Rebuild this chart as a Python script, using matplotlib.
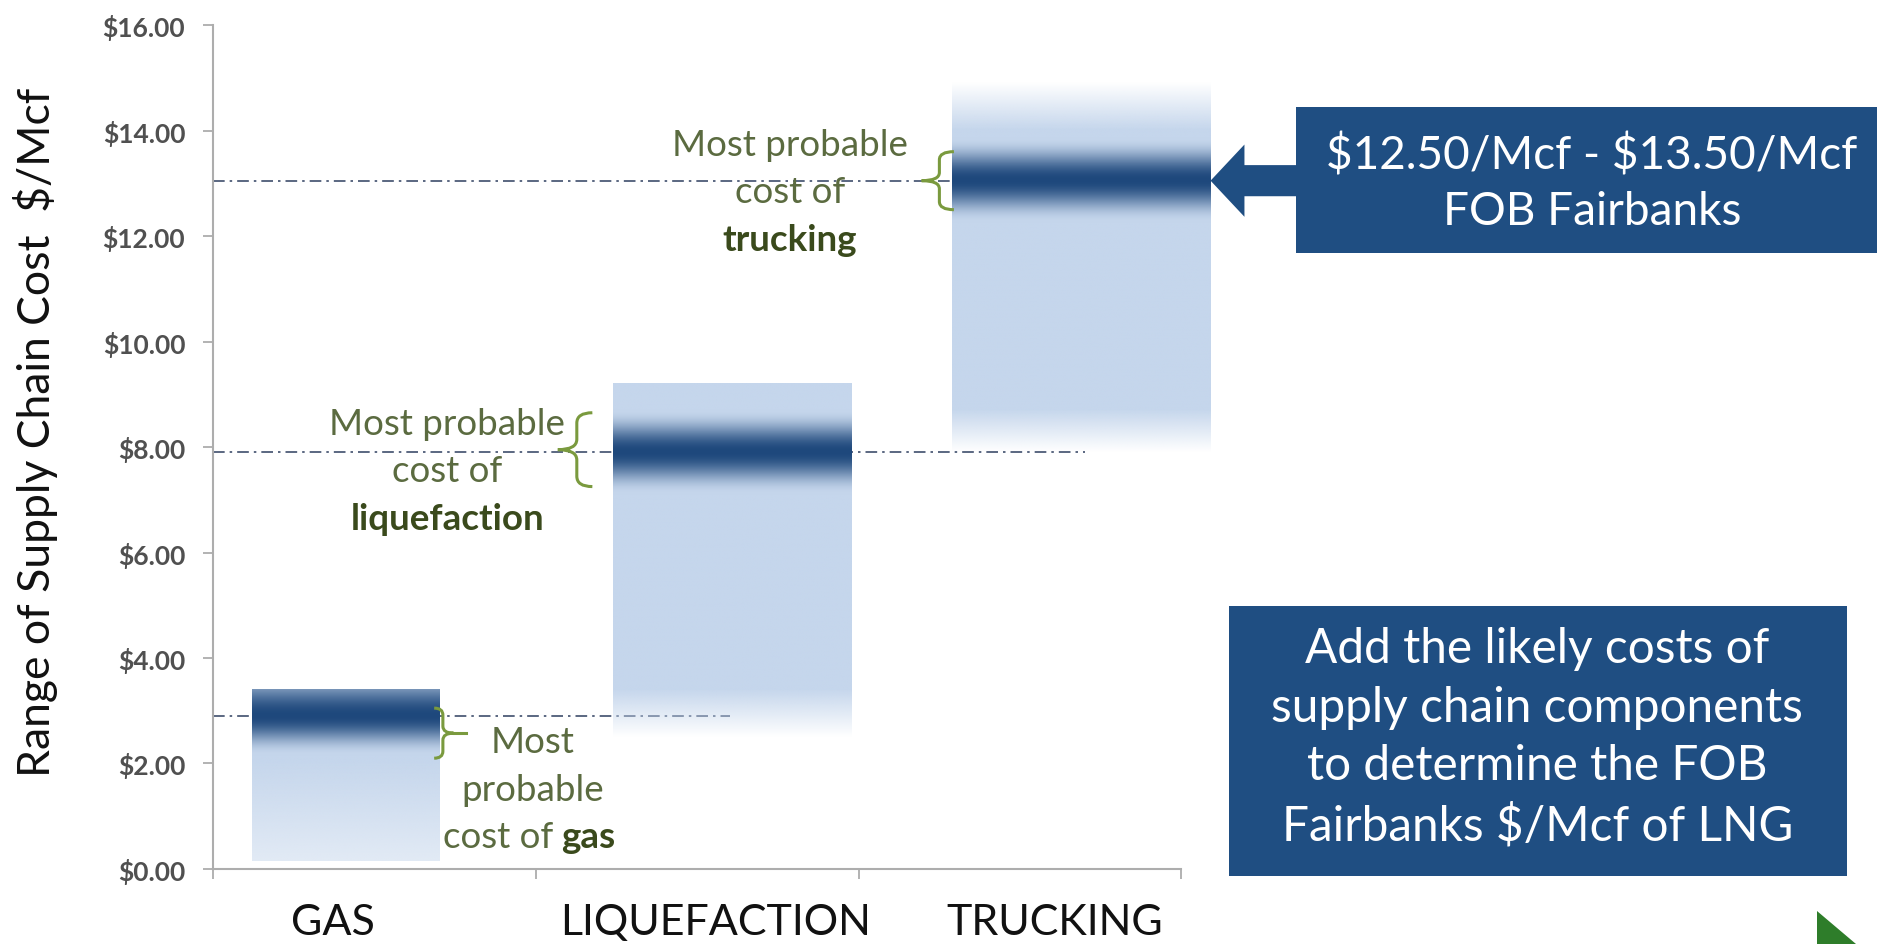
import matplotlib
matplotlib.use("Agg")
import matplotlib.pyplot as plt
import matplotlib.patches as mpatches
from matplotlib.path import Path
import numpy as np

# данные
categories = ["GAS", "LIQUEFACTION", "TRUCKING"]
cost_low = [0.15, 2.5, 7.9]
cost_high = [3.4, 9.2, 14.9]
most_probable = [2.9, 7.9, 13.05]
brace_low = [2.1, 7.25, 12.5]
brace_high = [3.05, 8.65, 13.6]
y_ticks = [0, 2, 4, 6, 8, 10, 12, 14, 16]
y_tick_labels = [f"${v:.2f}" for v in y_ticks]

box_top_text = "$12.50/Mcf - $13.50/Mcf\nFOB Fairbanks"
box_bottom_text = ("Add the likely costs of\nsupply chain components\n"
                   "to determine the FOB\nFairbanks $/Mcf of LNG")
y_label = "Range of Supply Chain Cost  $/Mcf"

# оформление
plt.rcParams["text.parse_math"] = False
FONT = "Lato"
LIGHT = np.array([197, 214, 236]) / 255
DARK = np.array([30, 72, 124]) / 255
BOX_BLUE = "#1F4E82"
TXT_GREEN = "#5B6B40"
BOLD_GREEN = "#3A4A1C"
BRACE_GREEN = "#7A9A3E"
LINE_COL = "#3E4E6C"
AXIS_GRAY = "#ADADAD"

bar_span = [(0.12, 0.70), (1.24, 1.98), (2.29, 3.09)]
band_up = [0.95, 0.80, 0.80]
band_down = [0.75, 0.80, 0.80]
fade_bottom = [1.9, 0.9, 0.8]
alpha_bottom = [0.5, 0.0, 0.0]
fade_top = [0.0, 0.0, 0.9]
line_end = [1.60, 2.70, 2.45]


def bar_image(lo, hi, mode, w_up, w_down, f_bot, a_bot, f_top, n=600):
    ys = np.linspace(lo, hi, n)
    w = np.where(ys > mode, w_up, w_down)
    t = np.clip(np.abs(ys - mode) / w, 0, 1)
    d = np.cos(np.pi / 2 * t) ** 2
    rgb = LIGHT[None, :] * (1 - d[:, None]) + DARK[None, :] * d[:, None]
    alpha = np.ones(n)
    if f_bot:
        alpha *= a_bot + (1 - a_bot) * np.clip((ys - lo) / f_bot, 0, 1)
    if f_top:
        alpha *= np.clip((hi - ys) / f_top, 0, 1)
    img = np.concatenate([rgb, alpha[:, None]], axis=1)
    return img[:, None, :]


def brace(ax, x_tip, y0, y1, width, direction, tail=0.0):
    # direction -1: "{" (кончик влево), +1: "}" (кончик вправо)
    ym = (y0 + y1) / 2
    xe = x_tip - direction * width
    xm = x_tip - direction * width * 0.55
    r = (y1 - y0) * 0.14
    verts = [(xe, y1), (xm, y1), (xm, y1 - r), (xm, ym + r), (xm, ym),
             (x_tip, ym), (xm, ym), (xm, ym - r), (xm, y0 + r), (xm, y0),
             (xe, y0)]
    codes = [Path.MOVETO, Path.CURVE3, Path.CURVE3, Path.LINETO, Path.CURVE3,
             Path.CURVE3, Path.CURVE3, Path.CURVE3, Path.LINETO, Path.CURVE3,
             Path.CURVE3]
    ax.add_patch(mpatches.PathPatch(Path(verts, codes), fill=False,
                                    edgecolor=BRACE_GREEN, lw=2.2,
                                    zorder=4, clip_on=False))
    if tail:
        ax.plot([x_tip, x_tip + direction * tail], [ym, ym],
                color=BRACE_GREEN, lw=2.2, zorder=4, clip_on=False)


fig = plt.figure(figsize=(18.77, 9.45), dpi=100)
ax = fig.add_axes([0.1135, 0.0794, 0.5366, 0.893])

# столбцы-градиенты
for i in range(len(categories)):
    img = bar_image(cost_low[i], cost_high[i], most_probable[i],
                    band_up[i], band_down[i], fade_bottom[i],
                    alpha_bottom[i], fade_top[i])
    x0, x1 = bar_span[i]
    ax.imshow(img, extent=[x0, x1, cost_low[i], cost_high[i]],
              origin="lower", aspect="auto", interpolation="bilinear",
              zorder=2)

# пунктир наиболее вероятной стоимости
for i in range(len(categories)):
    ax.plot([0, line_end[i]], [most_probable[i]] * 2, color=LINE_COL,
            lw=1.2, dashes=(7, 3, 1.5, 3), zorder=1)

# фигурные скобки
brace(ax, 2.195, brace_low[2], brace_high[2], 0.10, -1)
brace(ax, 1.068, brace_low[1], brace_high[1], 0.107, -1)
brace(ax, 0.745, brace_low[0], brace_high[0], 0.06, +1, tail=0.04)

# подписи "Most probable ..."
fs = 26.5
def lines(x, ys, parts):
    for y, (txt, bold) in zip(ys, parts):
        ax.text(x, y, txt, ha="center", va="center", fontsize=fs,
                family=FONT, color=BOLD_GREEN if bold else TXT_GREEN,
                fontweight="bold" if bold else "normal", zorder=5)

lines(1.787, [13.73, 12.84, 11.94],
      [("Most probable", False), ("cost of", False), ("trucking", True)])
lines(0.725, [8.44, 7.56, 6.65],
      [("Most probable", False), ("cost of", False), ("liquefaction", True)])
lines(0.990, [2.41, 1.50], [("Most", False), ("probable", False)])
ax.text(1.053, 0.61, "cost of", ha="right", va="center", fontsize=fs,
        family=FONT, color=TXT_GREEN, zorder=5)
ax.text(1.078, 0.61, "gas", ha="left", va="center", fontsize=fs,
        family=FONT, color=BOLD_GREEN, fontweight="bold", zorder=5)

# стрелка к блоку
ax.add_patch(mpatches.FancyArrow(3.42, most_probable[2], -0.33, 0,
                                 width=0.59, head_width=1.37,
                                 head_length=0.105, length_includes_head=True,
                                 color=BOX_BLUE, lw=0, zorder=6,
                                 clip_on=False))

# оси
ax.set_xlim(0, 3.12)
ax.set_ylim(0, 16)
ax.set_yticks(y_ticks)
ax.set_yticklabels(y_tick_labels, family=FONT, fontsize=19,
                   fontweight="bold", color="#505050")
ax.set_xticks([0, 1, 2, 3])
ax.set_xticklabels([])
ax.tick_params(axis="y", length=7, width=1.3, color=AXIS_GRAY, pad=13)
ax.tick_params(axis="x", length=7, width=1.3, color=AXIS_GRAY)
for side in ["top", "right"]:
    ax.spines[side].set_visible(False)
for side in ["left", "bottom"]:
    ax.spines[side].set_color(AXIS_GRAY)
    ax.spines[side].set_linewidth(1.5)
ax.spines["bottom"].set_bounds(0, 3)

cat_x = [0.371, 1.558, 2.607]
for x, c in zip(cat_x, categories):
    ax.text(x, -1.0, c, ha="center", va="center", fontsize=31, family=FONT,
            color="#111111", clip_on=False)

fig.text(0.019, 0.542, y_label, rotation=90, ha="center", va="center",
         fontsize=32, family=FONT, color="#111111")

# синие блоки справа
fig.add_artist(mpatches.Rectangle((0.6905, 0.7312), 0.3095, 0.1545,
                                  transform=fig.transFigure,
                                  facecolor=BOX_BLUE, edgecolor="none"))
fig.text(0.848, 0.806, box_top_text, ha="center", va="center", fontsize=33,
         family=FONT, color="white", linespacing=1.4)

fig.add_artist(mpatches.Rectangle((0.6548, 0.072), 0.3293, 0.2857,
                                  transform=fig.transFigure,
                                  facecolor=BOX_BLUE, edgecolor="none"))
fig.text(0.819, 0.219, box_bottom_text, ha="center", va="center",
         fontsize=34.4, family=FONT, color="white", linespacing=1.4)

# зелёный треугольник в углу
fig.add_artist(mpatches.Polygon([(0.968, 0.035), (0.968, 0.0), (0.989, 0.0)],
                                closed=True, transform=fig.transFigure,
                                facecolor="#2E7D2A", edgecolor="none"))

fig.savefig("out.png", dpi=100, facecolor="white")
